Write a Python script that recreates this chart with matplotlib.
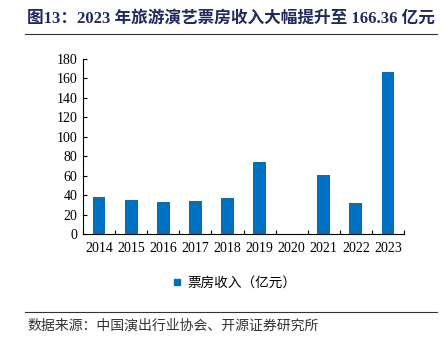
import matplotlib.pyplot as plt
import numpy as np
from matplotlib.lines import Line2D

years = ['2014', '2015', '2016', '2017', '2018', '2019', '2020', '2021', '2022', '2023']
box_office = [37.7, 34.6, 33.3, 33.7, 36.8, 73.8, 0, 60.6, 31.6, 166.36]
yticks = [0, 20, 40, 60, 80, 100, 120, 140, 160, 180]

title = '图13：2023 年旅游演艺票房收入大幅提升至 166.36 亿元'
legend_label = '票房收入（亿元）'
source = '数据来源：中国演出行业协会、开源证券研究所'

serif_cjk = ['Liberation Serif', 'Noto Sans CJK SC']
bar_color = '#0070C0'
navy = '#1F2A5E'

fig = plt.figure(figsize=(4.43, 3.38), dpi=100)
ax = fig.add_axes([83 / 443, 1 - 234 / 338, 321 / 443, 175 / 338])

x = np.arange(len(years))
ax.bar(x, box_office, width=0.4, color=bar_color)

ax.set_xlim(-0.5, len(years) - 0.5)
ax.set_ylim(0, 180)
ax.set_yticks(yticks)
ax.set_xticks(x)
ax.set_xticklabels(years)
# tick marks sit between categories
ax.set_xticks(np.arange(len(years) + 1) - 0.5, minor=True)
ax.tick_params(axis='x', which='major', length=0, pad=6)
ax.tick_params(axis='x', which='minor', length=3, direction='in', width=0.8)
ax.tick_params(axis='y', length=3, direction='in', width=0.8, pad=4)
for lab in ax.get_xticklabels() + ax.get_yticklabels():
    lab.set_family('Liberation Serif')
    lab.set_fontsize(10)

for s in ['top', 'right']:
    ax.spines[s].set_visible(False)
for s in ['left', 'bottom']:
    ax.spines[s].set_linewidth(0.8)

# legend
handle = Line2D([], [], marker='s', linestyle='none', color=bar_color, markersize=5)
fig.legend([handle], [legend_label], loc='center', bbox_to_anchor=(234 / 443, 1 - 283 / 338),
           frameon=False, handlelength=0.8, handletextpad=0.3,
           prop={'family': serif_cjk, 'size': 9.8})

# title and source with rules
fig.text(27 / 443, 1 - 19 / 338, title, family=serif_cjk, fontsize=12, fontweight='bold',
         color=navy, va='center', ha='left')
fig.add_artist(Line2D([25 / 443, 437 / 443], [1 - 34 / 338] * 2, color='#333333', lw=0.8))
fig.add_artist(Line2D([25 / 443, 437 / 443], [1 - 312 / 338] * 2, color='#333333', lw=0.8))
fig.text(27 / 443, 1 - 326 / 338, source, family=serif_cjk, fontsize=10,
         color='#333333', va='center', ha='left')

fig.savefig('out.png', dpi=100)
